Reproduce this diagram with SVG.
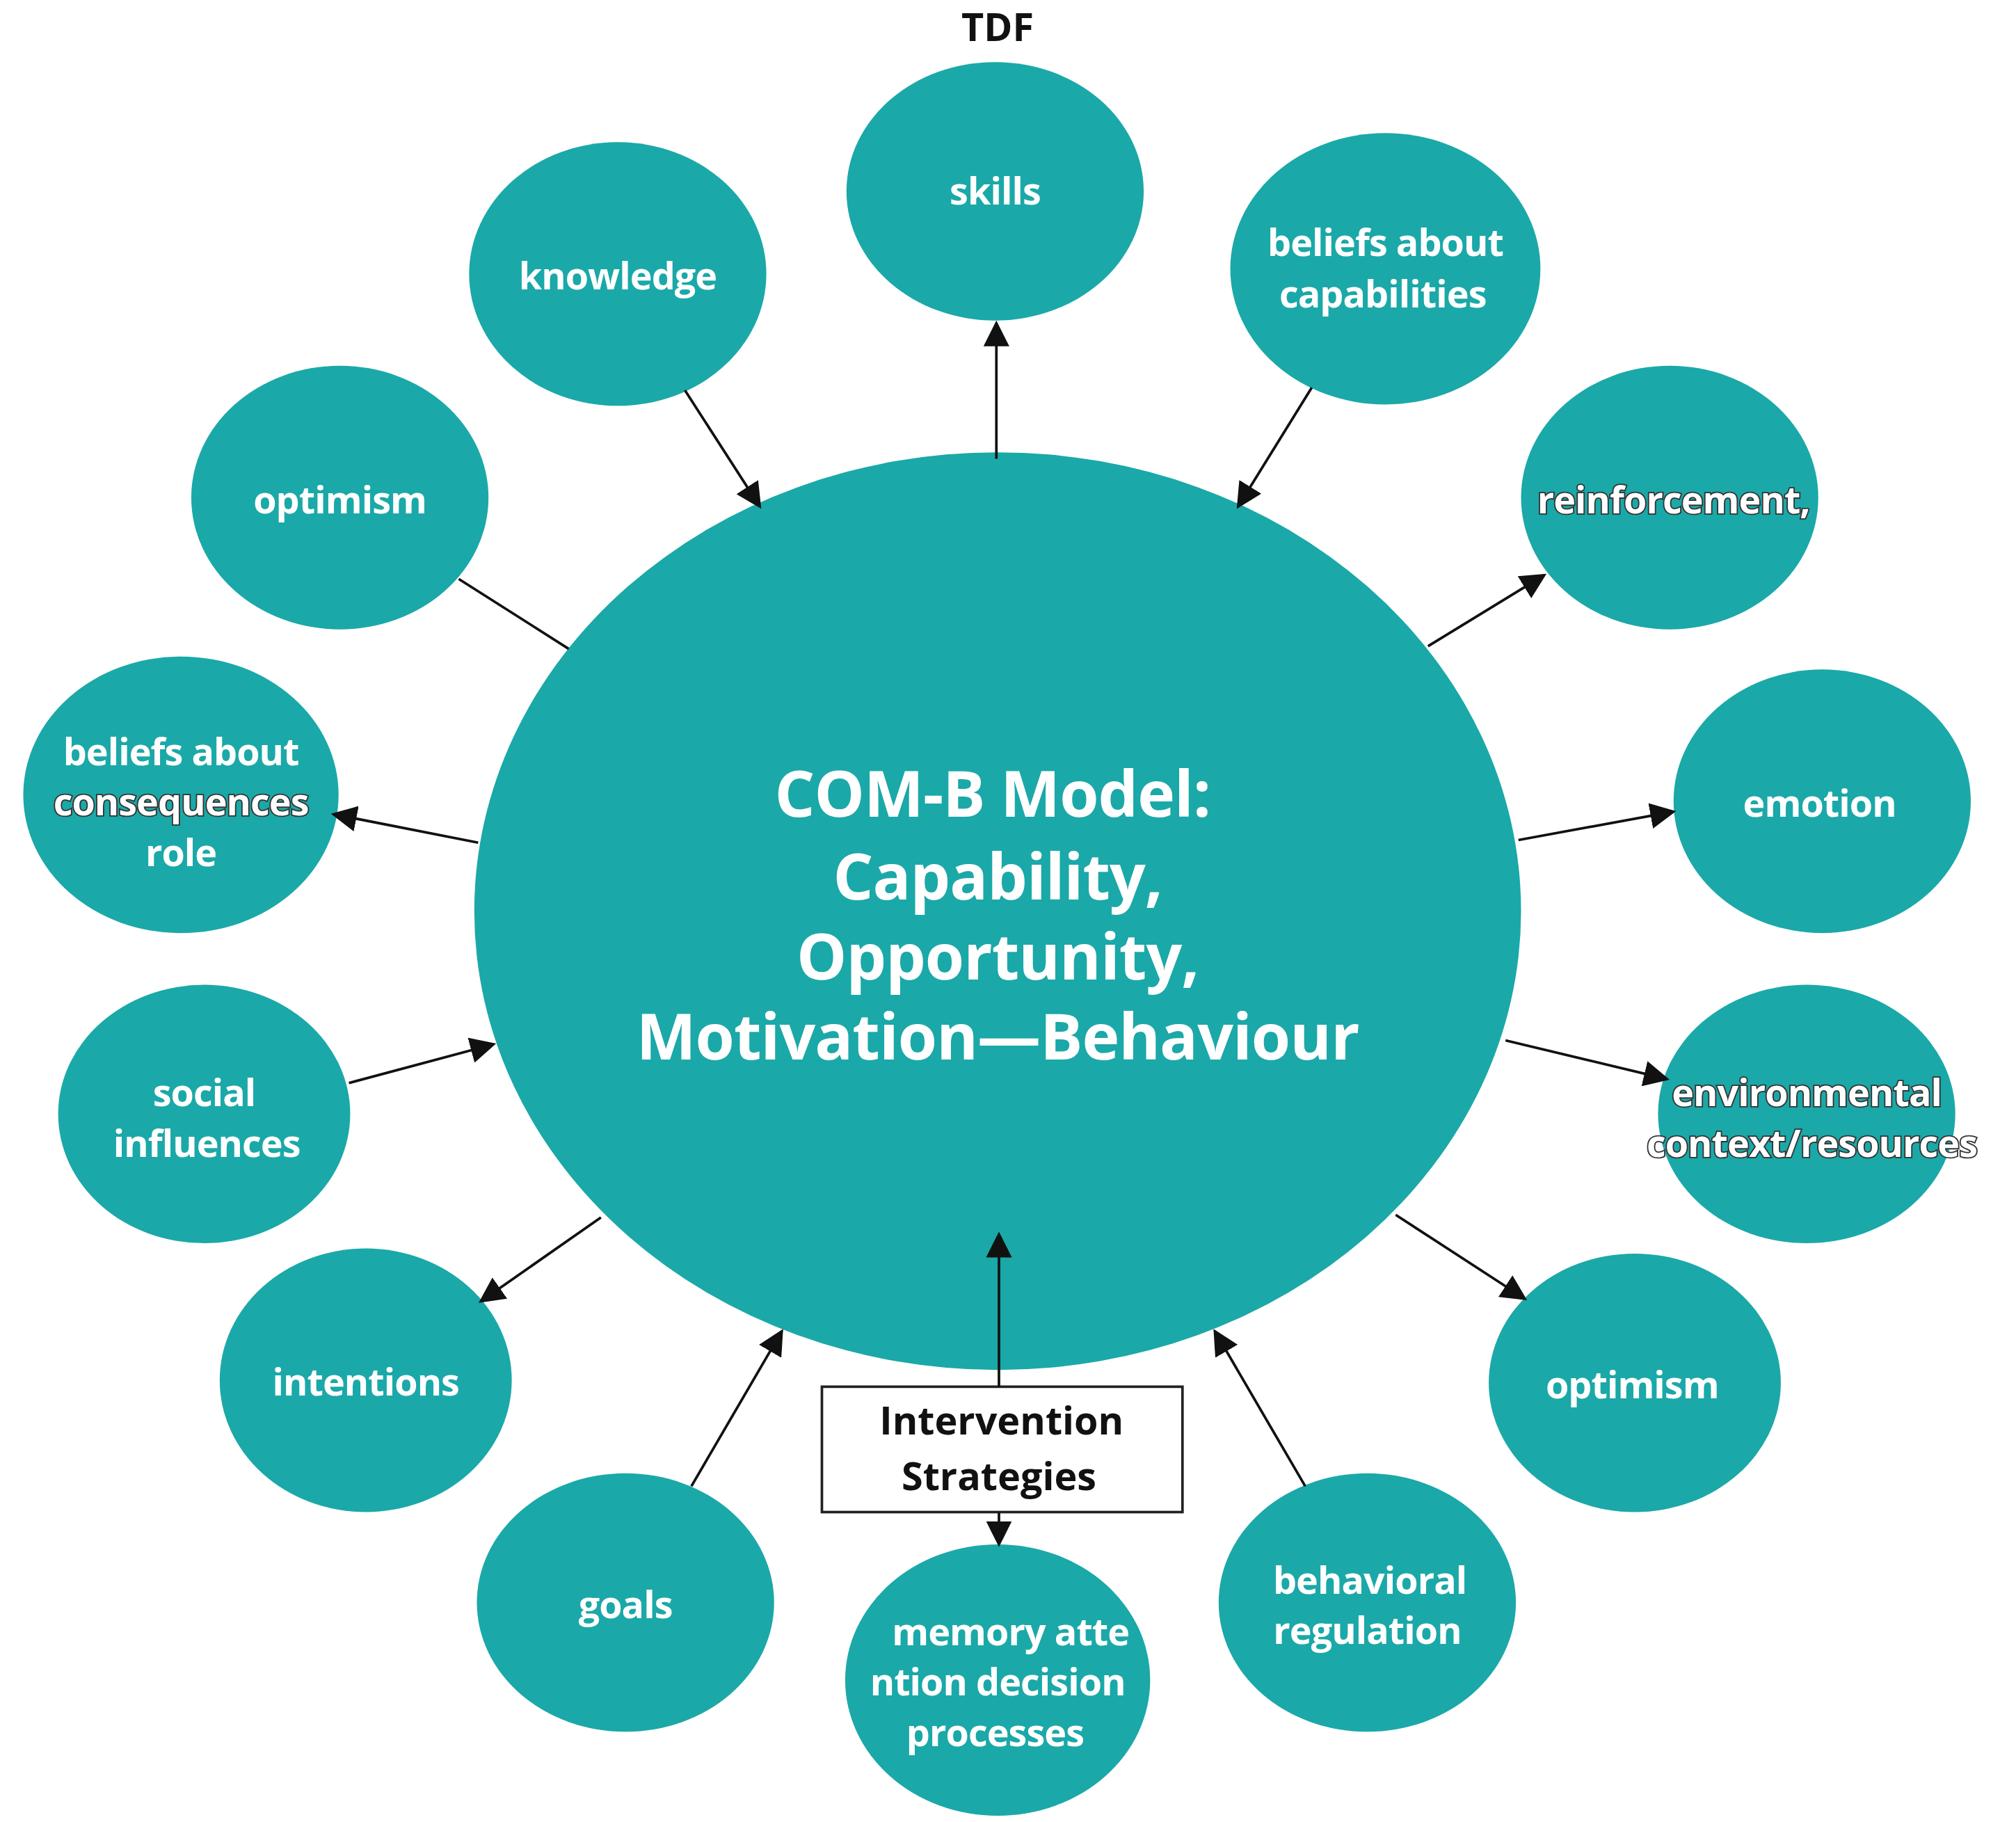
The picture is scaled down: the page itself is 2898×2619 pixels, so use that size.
<svg xmlns="http://www.w3.org/2000/svg" width="2898" height="2619" viewBox="0 0 2898 2619">
<style>
.n{fill:#1ba8a8}
.t{fill:#fff;font-family:"Open Sans","Liberation Sans",sans-serif;font-weight:700;font-size:29px;text-anchor:middle;letter-spacing:-0.5px}
.o{stroke:#333;stroke-width:2;paint-order:stroke}
.c{font-size:49px}
.l{stroke:#111;stroke-width:2;fill:none}
.b{font-family:"Open Sans","Liberation Sans",sans-serif;font-weight:700;font-size:30px;text-anchor:middle;fill:#111}
</style>
<defs><marker id="a" viewBox="0 0 10 10" refX="9" refY="5" markerWidth="20" markerHeight="20" markerUnits="userSpaceOnUse" orient="auto"><path d="M0,0L10,5L0,10z" fill="#111"/></marker></defs>
<rect width="2898" height="2619" fill="#fff"/>
<g transform="scale(1.8577)">
<text class="b" x="772" y="32">TDF</text>
<g id="center"><ellipse class="n" cx="772" cy="705" rx="405" ry="355"/>
<text class="t c" x="768" y="632">COM-B Model:</text><text class="t c" x="772" y="696">Capability,</text><text class="t c" x="772" y="758">Opportunity,</text><text class="t c" x="772" y="820">Motivation—Behaviour</text></g>
<g id="skills"><ellipse class="n" cx="770" cy="148" rx="115" ry="100"/><text class="t" x="770" y="158">skills</text></g>
<g id="knowledge"><ellipse class="n" cx="478" cy="212" rx="115" ry="102"/><text class="t" x="478" y="224">knowledge</text></g>
<g id="beliefs-cap"><ellipse class="n" cx="1072" cy="208" rx="120" ry="105"/><text class="t" x="1072" y="198">beliefs about</text><text class="t" x="1070" y="238">capabilities</text></g>
<g id="optimism1"><ellipse class="n" cx="263" cy="385" rx="115" ry="102"/><text class="t" x="263" y="397">optimism</text></g>
<g id="reinforcement"><ellipse class="n" cx="1292" cy="385" rx="115" ry="102"/><text class="t o" x="1295" y="397">reinforcement,</text></g>
<g id="beliefs-cons"><ellipse class="n" cx="140" cy="615" rx="122" ry="107"/><text class="t" x="140" y="592">beliefs about</text><text class="t o" x="140" y="631">consequences</text><text class="t" x="140" y="670">role</text></g>
<g id="emotion"><ellipse class="n" cx="1410" cy="620" rx="115" ry="102"/><text class="t" x="1408" y="632">emotion</text></g>
<g id="social"><ellipse class="n" cx="158" cy="862" rx="113" ry="100"/><text class="t" x="158" y="856">social</text><text class="t" x="160" y="895">influences</text></g>
<g id="environmental"><ellipse class="n" cx="1398" cy="862" rx="115" ry="100"/><text class="t o" x="1398" y="856">environmental</text><text class="t o" x="1402" y="895">context/resources</text></g>
<g id="intentions"><ellipse class="n" cx="283" cy="1068" rx="113" ry="102"/><text class="t" x="283" y="1080">intentions</text></g>
<g id="optimism2"><ellipse class="n" cx="1265" cy="1070" rx="113" ry="100"/><text class="t" x="1263" y="1082">optimism</text></g>
<g id="goals"><ellipse class="n" cx="484" cy="1240" rx="115" ry="100"/><text class="t" x="484" y="1252">goals</text></g>
<g id="memory"><ellipse class="n" cx="772" cy="1300" rx="118" ry="105"/><text class="t" x="782" y="1273">memory atte</text><text class="t" x="772" y="1312">ntion decision</text><text class="t" x="770" y="1351">processes</text></g>
<g id="behavioral"><ellipse class="n" cx="1058" cy="1240" rx="115" ry="100"/><text class="t" x="1060" y="1233">behavioral</text><text class="t" x="1058" y="1272">regulation</text></g>
<g id="box"><rect x="636" y="1073" width="279" height="97" fill="#fff" stroke="#222" stroke-width="2"/><text class="b" x="775" y="1110">Intervention</text><text class="b" x="773" y="1153">Strategies</text></g>
<g id="connectors">
<line class="l" x1="530" y1="302" x2="588" y2="392" marker-end="url(#a)"/>
<line class="l" x1="771" y1="355" x2="771" y2="250" marker-end="url(#a)"/>
<line class="l" x1="1015" y1="300" x2="958" y2="392" marker-end="url(#a)"/>
<line class="l" x1="355" y1="448" x2="440" y2="502"/>
<line class="l" x1="1105" y1="500" x2="1195" y2="445" marker-end="url(#a)"/>
<line class="l" x1="370" y1="652" x2="258" y2="630" marker-end="url(#a)"/>
<line class="l" x1="1175" y1="650" x2="1295" y2="628" marker-end="url(#a)"/>
<line class="l" x1="270" y1="838" x2="382" y2="808" marker-end="url(#a)"/>
<line class="l" x1="1165" y1="805" x2="1290" y2="835" marker-end="url(#a)"/>
<line class="l" x1="465" y1="942" x2="372" y2="1007" marker-end="url(#a)"/>
<line class="l" x1="1080" y1="940" x2="1180" y2="1005" marker-end="url(#a)"/>
<line class="l" x1="535" y1="1150" x2="605" y2="1030" marker-end="url(#a)"/>
<line class="l" x1="1010" y1="1150" x2="940" y2="1030" marker-end="url(#a)"/>
<line class="l" x1="773" y1="1073" x2="773" y2="955" marker-end="url(#a)"/>
<line class="l" x1="773" y1="1170" x2="773" y2="1195" marker-end="url(#a)"/>
</g>
</g>
</svg>
